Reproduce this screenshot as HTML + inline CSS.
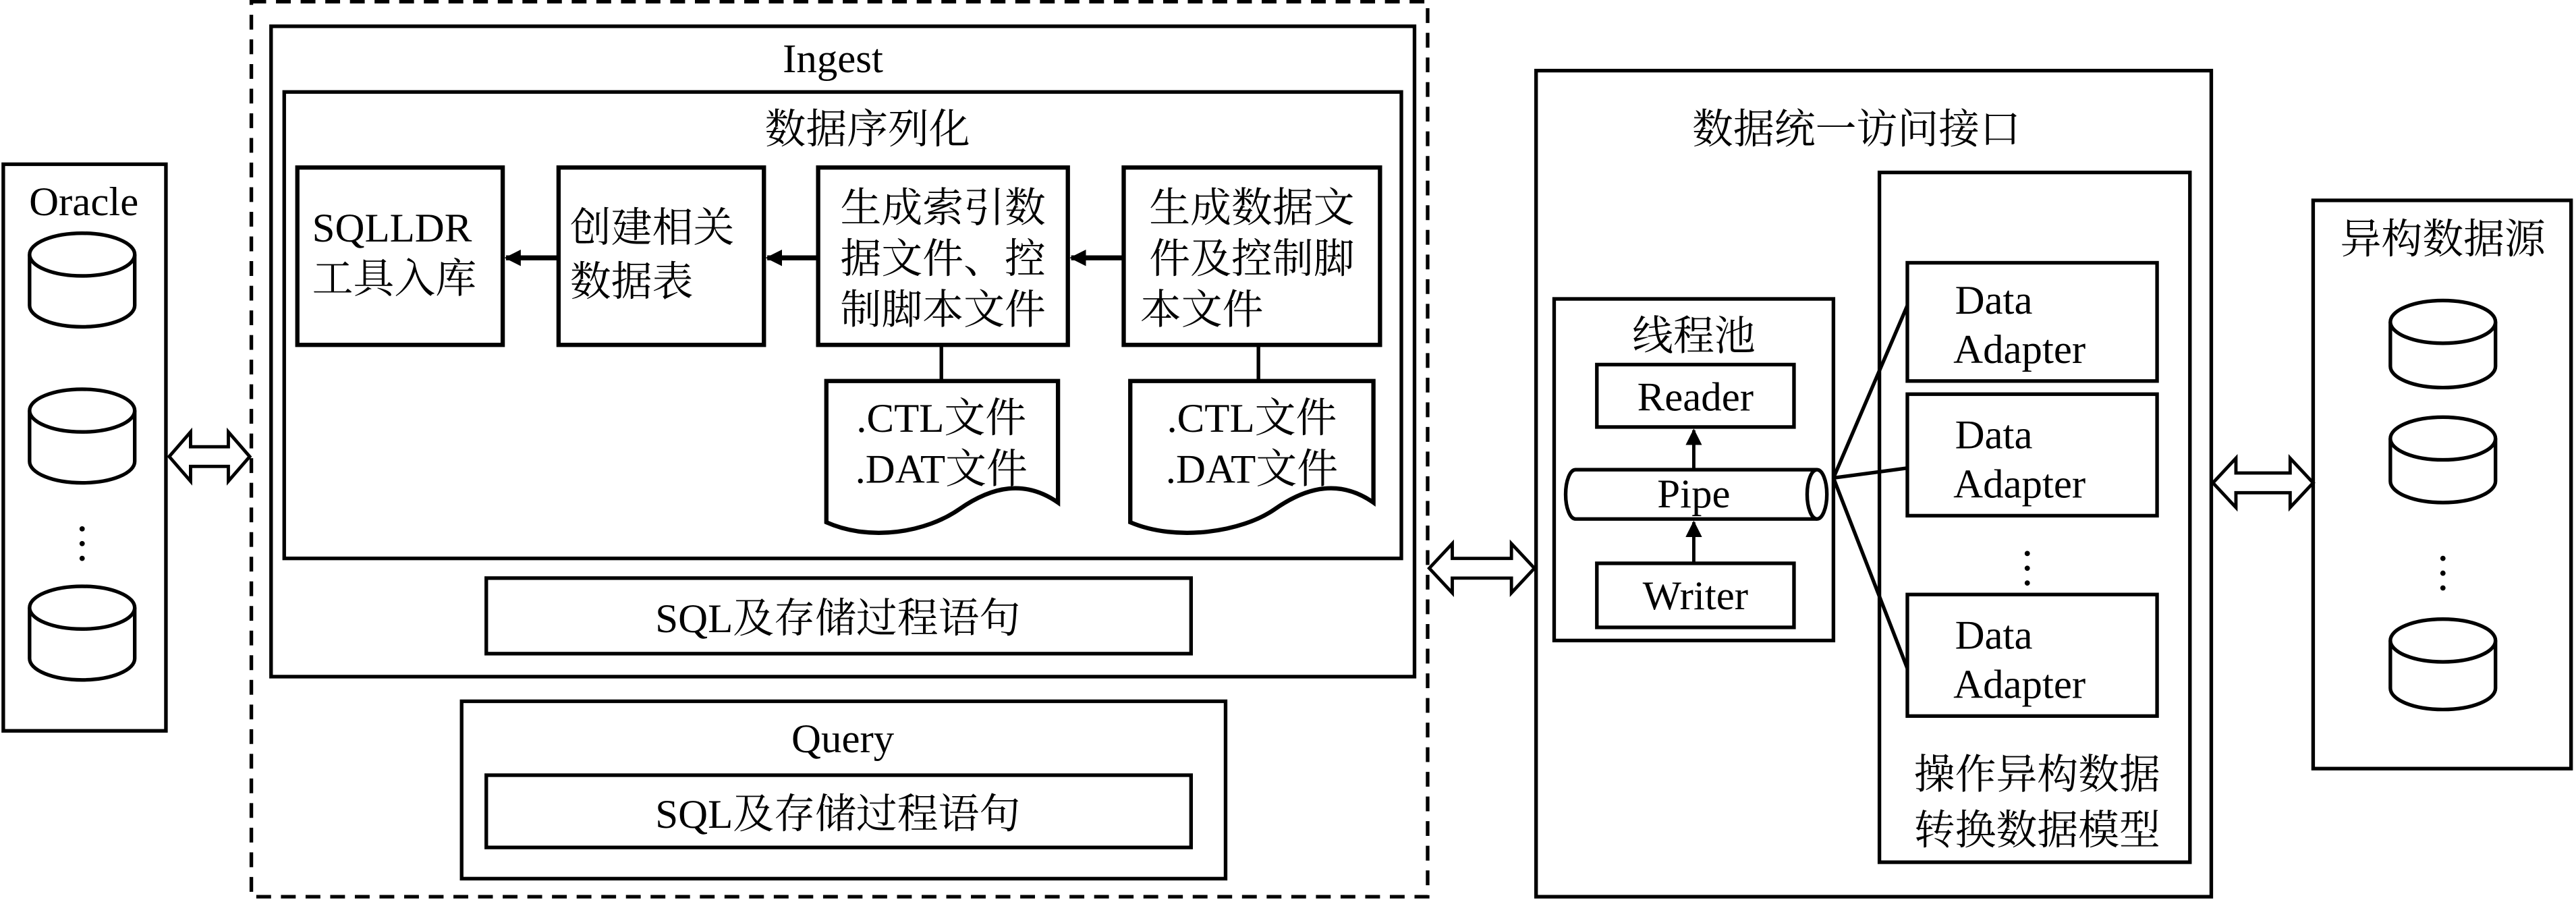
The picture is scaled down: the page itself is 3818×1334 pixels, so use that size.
<!DOCTYPE html>
<html><head><meta charset="utf-8"><style>
html,body{margin:0;padding:0;background:#fff;}
svg{display:block;}
text{font-family:"Liberation Serif","Noto Serif CJK SC","Noto Sans CJK SC",serif;fill:#000;}
</style></head><body>
<svg width="3818" height="1334" viewBox="0 0 1568 548" preserveAspectRatio="none" xmlns="http://www.w3.org/2000/svg">
<defs>
<marker id="ah" markerWidth="10" markerHeight="10" refX="9" refY="5" orient="auto" markerUnits="userSpaceOnUse">
<path d="M0,0 L10,5 L0,10 Z" fill="#000"/></marker>
</defs>
<g fill="none" stroke="#000" stroke-width="2.2">
<rect x="2" y="100" width="99" height="345"/>
<rect x="153" y="1" width="716" height="545" stroke-dasharray="9,6"/>
<rect x="165" y="16" width="696" height="396"/>
<rect x="173" y="56" width="680" height="284"/>
<rect x="181" y="102" width="125" height="108" stroke-width="2.6"/>
<rect x="340" y="102" width="125" height="108" stroke-width="2.6"/>
<rect x="498" y="102" width="152" height="108" stroke-width="2.6"/>
<rect x="684" y="102" width="156" height="108" stroke-width="2.6"/>
<line x1="573" y1="210" x2="573" y2="232"/>
<line x1="766" y1="210" x2="766" y2="232"/>
<path d="M503,232 H644 V306 C624,292 604,296 584,310 C564,324 530,330 503,318 Z" stroke-width="2.6"/>
<path d="M688,232 H836 V306 C816,292 796,296 776,310 C756,324 716,330 688,318 Z" stroke-width="2.6"/>
<rect x="296" y="352" width="429" height="46"/>
<rect x="281" y="427" width="465" height="108"/>
<rect x="296" y="472" width="429" height="44"/>
<rect x="935" y="43" width="411" height="503"/>
<rect x="946" y="182" width="170" height="208"/>
<rect x="972" y="222" width="120" height="38"/>
<rect x="972" y="343" width="120" height="39"/>
<path d="M959,286 H1106 A6,15 0 0 1 1106,316 H959 A6,15 0 0 1 959,286 Z"/>
<path d="M1106,286 A6,15 0 0 0 1106,316"/>
<rect x="1144" y="105" width="189" height="420"/>
<rect x="1161" y="160" width="152" height="72"/>
<rect x="1161" y="240" width="152" height="74"/>
<rect x="1161" y="362" width="152" height="74"/>
<line x1="1116" y1="291" x2="1161" y2="186"/>
<line x1="1116" y1="291" x2="1161" y2="285"/>
<line x1="1116" y1="291" x2="1161" y2="407"/>
<rect x="1408" y="122" width="157" height="346"/>
</g>
<g stroke="#000" stroke-width="3" fill="none">
<line x1="340" y1="157" x2="308" y2="157" marker-end="url(#ah)"/>
<line x1="498" y1="157" x2="467" y2="157" marker-end="url(#ah)"/>
<line x1="684" y1="157" x2="652" y2="157" marker-end="url(#ah)"/>
<line x1="1031" y1="286" x2="1031" y2="262" marker-end="url(#ah)" stroke-width="2"/>
<line x1="1031" y1="343" x2="1031" y2="318" marker-end="url(#ah)" stroke-width="2"/>
</g>
<g fill="#fff" stroke="#000" stroke-width="2">
<path d="M103,278 L116,263 V272 H139 V263 L152,278 L139,293 V284 H116 V293 Z"/>
<path d="M870,346 L884,331 V340 H920 V331 L934,346 L920,361 V352 H884 V361 Z"/>
<path d="M1347,294 L1361,279 V288 H1394 V279 L1408,294 L1394,309 V300 H1361 V309 Z"/>
</g>
<g fill="#fff" stroke="#000" stroke-width="2.2">
<path d="M18,155 V186 A32,13 0 0 0 82,186 V155"/><ellipse cx="50" cy="155" rx="32" ry="13"/>
<path d="M18,250 V281 A32,13 0 0 0 82,281 V250"/><ellipse cx="50" cy="250" rx="32" ry="13"/>
<path d="M18,370 V401 A32,13 0 0 0 82,401 V370"/><ellipse cx="50" cy="370" rx="32" ry="13"/>
<path d="M1455,196 V223 A32,13 0 0 0 1519,223 V196"/><ellipse cx="1487" cy="196" rx="32" ry="13"/>
<path d="M1455,267 V293 A32,13 0 0 0 1519,293 V267"/><ellipse cx="1487" cy="267" rx="32" ry="13"/>
<path d="M1455,390 V419 A32,13 0 0 0 1519,419 V390"/><ellipse cx="1487" cy="390" rx="32" ry="13"/>
</g>
<g fill="#000">
<circle cx="50" cy="322" r="1.6"/><circle cx="50" cy="331" r="1.6"/><circle cx="50" cy="340" r="1.6"/>
<circle cx="1234" cy="337" r="1.6"/><circle cx="1234" cy="346" r="1.6"/><circle cx="1234" cy="355" r="1.6"/>
<circle cx="1487" cy="340" r="1.6"/><circle cx="1487" cy="349" r="1.6"/><circle cx="1487" cy="358" r="1.6"/>
</g>
<g font-size="25" text-anchor="middle">
<text x="51" y="131">Oracle</text>
<text x="507" y="44">Ingest</text>
<text x="528" y="87">数据序列化</text>
<text x="190" y="147" text-anchor="start">SQLLDR</text>
<text x="190" y="178" text-anchor="start">工具入库</text>
<text x="347" y="147" text-anchor="start">创建相关</text>
<text x="347" y="180" text-anchor="start">数据表</text>
<text x="574" y="135">生成索引数</text>
<text x="574" y="166">据文件、控</text>
<text x="574" y="197">制脚本文件</text>
<text x="762" y="135">生成数据文</text>
<text x="762" y="166">件及控制脚</text>
<text x="694" y="197" text-anchor="start">本文件</text>
<text x="573" y="263">.CTL文件</text>
<text x="573" y="294">.DAT文件</text>
<text x="762" y="263">.CTL文件</text>
<text x="762" y="294">.DAT文件</text>
<text x="510" y="385">SQL及存储过程语句</text>
<text x="513" y="458">Query</text>
<text x="510" y="504">SQL及存储过程语句</text>
<text x="1130" y="87">数据统一访问接口</text>
<text x="1031" y="213">线程池</text>
<text x="1032" y="250">Reader</text>
<text x="1031" y="309">Pipe</text>
<text x="1032" y="371">Writer</text>
<text x="1190" y="191" text-anchor="start">Data</text><text x="1189" y="221" text-anchor="start">Adapter</text>
<text x="1190" y="273" text-anchor="start">Data</text><text x="1189" y="303" text-anchor="start">Adapter</text>
<text x="1190" y="395" text-anchor="start">Data</text><text x="1189" y="425" text-anchor="start">Adapter</text>
<text x="1240" y="480">操作异构数据</text>
<text x="1240" y="514">转换数据模型</text>
<text x="1487" y="154">异构数据源</text>
</g>
</svg>
</body></html>
